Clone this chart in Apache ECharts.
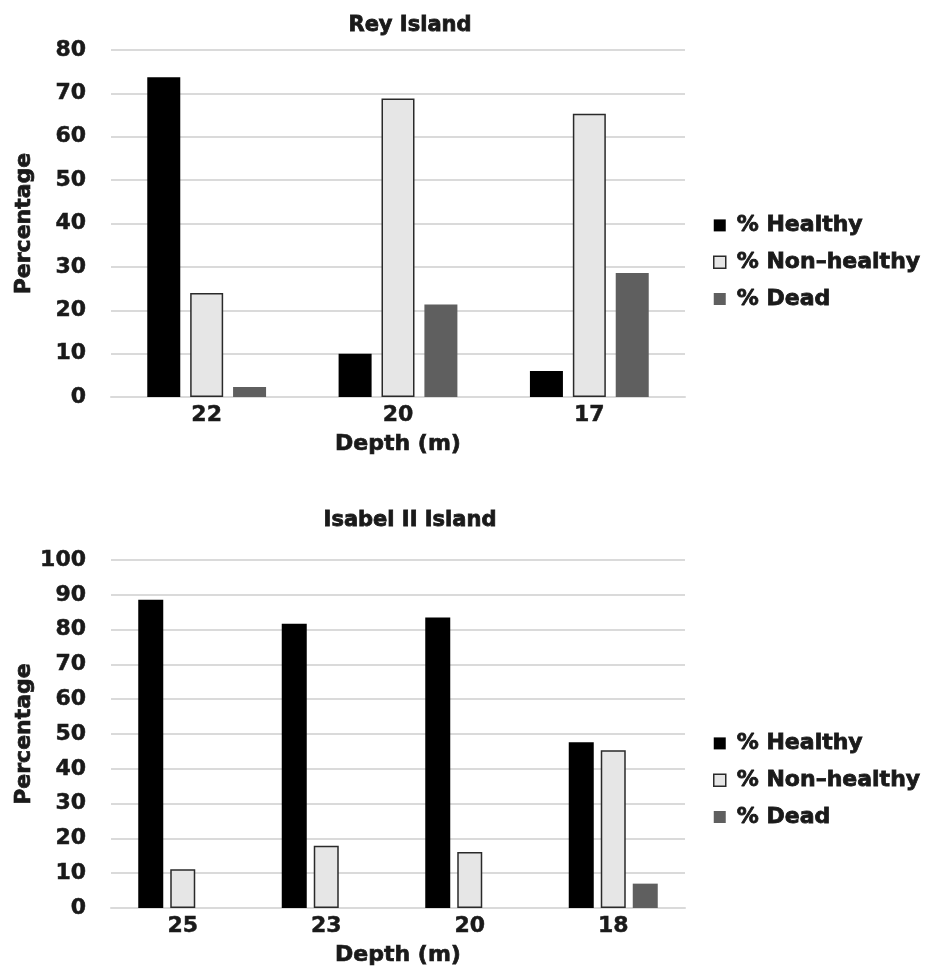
<!DOCTYPE html>
<html>
<head>
<meta charset="utf-8">
<script src="https://cdn.jsdelivr.net/npm/echarts@6/dist/echarts.min.js"></script>
<style>
html,body{margin:0;padding:0;background:#fff;}
#main{width:929px;height:974px;}
</style>
</head>
<body>
<div id="main"></div>
<script>
// Rey Island
const reyDepths = ['22', '20', '17'];
const reyHealthy = [73.7, 10.0, 6.0];
const reyNonHealthy = [24.0, 68.8, 65.3];
const reyDead = [2.3, 21.3, 28.6];

// Isabel II Island
const isabelDepths = ['25', '23', '20', '18'];
const isabelHealthy = [88.6, 81.7, 83.5, 47.6];
const isabelNonHealthy = [11.1, 17.9, 16.1, 45.3];
const isabelDead = [0, 0, 0, 7.0];

const seriesNames = ['% Healthy', '% Non\u2013healthy', '% Dead'];
const titles = ['Rey Island', 'Isabel II Island'];

const FONT = 'DejaVu Sans';
const INK = '#1a1a1a';
function txt(size, border) {
  return {fontFamily: FONT, fontWeight: 'bold', color: INK, fontSize: size,
          textBorderColor: INK, textBorderWidth: border};
}

const chart = echarts.init(document.getElementById('main'), null, {renderer: 'canvas'});

function yAxis(idx, max, gap) {
  return {
    type: 'value', gridIndex: idx, min: 0, max: max, interval: 10,
    name: 'Percentage', nameLocation: 'middle', nameGap: gap,
    nameMoveOverlap: false,
    nameTextStyle: txt(22, 0.7),
    axisLine: {show: false}, axisTick: {show: false},
    axisLabel: Object.assign(txt(22, 0.5), {margin: 25}),
    splitLine: {lineStyle: {color: '#dadada', width: 2}}
  };
}
function xAxis(idx, cats) {
  return {
    type: 'category', gridIndex: idx, data: cats,
    name: 'Depth (m)', nameLocation: 'middle', nameGap: 36,
    nameTextStyle: txt(22, 0.7),
    axisLine: {lineStyle: {color: '#dadada', width: 2}},
    axisTick: {show: false},
    axisLabel: Object.assign(txt(22, 0.5), {margin: 7})
  };
}
const styles = [
  {color: '#000000'},
  {color: '#e6e6e6', borderColor: '#2a2a2a', borderWidth: 1.5},
  {color: '#5f5f5f'}
];
function bars(idx, data, width, gap) {
  return data.map((d, i) => ({
    name: seriesNames[i], type: 'bar', xAxisIndex: idx, yAxisIndex: idx,
    data: d, barWidth: width, barGap: gap, itemStyle: styles[i],
    emphasis: {disabled: true}
  }));
}
function legend(top) {
  return {
    data: seriesNames.map((n, i) => ({name: n, itemStyle: styles[i]})),
    orient: 'vertical', left: 708, top: top,
    itemWidth: 12, itemHeight: 12, itemGap: 14,
    icon: 'rect',
    textStyle: Object.assign(txt(22, 0.8), {padding: [0, 0, 0, 6]})
  };
}

chart.setOption({
  animation: false,
  backgroundColor: '#ffffff',
  title: [
    {text: titles[0], left: 405, top: 10, textAlign: 'center', textStyle: txt(21, 0.8)},
    {text: titles[1], left: 405, top: 505, textAlign: 'center', textStyle: txt(21, 0.8)}
  ],
  legend: [legend(209), legend(727)],
  grid: [
    {left: 111, right: 244, top: 50, height: 347},
    {left: 111, right: 244, top: 560, height: 348}
  ],
  xAxis: [xAxis(0, reyDepths), xAxis(1, isabelDepths)],
  yAxis: [yAxis(0, 80, 76), yAxis(1, 100, 76)],
  series: [
    ...bars(0, [reyHealthy, reyNonHealthy, reyDead], 33, '30%'),
    ...bars(1, [isabelHealthy, isabelNonHealthy, isabelDead], 25, '28%')
  ]
});
</script>
</body>
</html>
